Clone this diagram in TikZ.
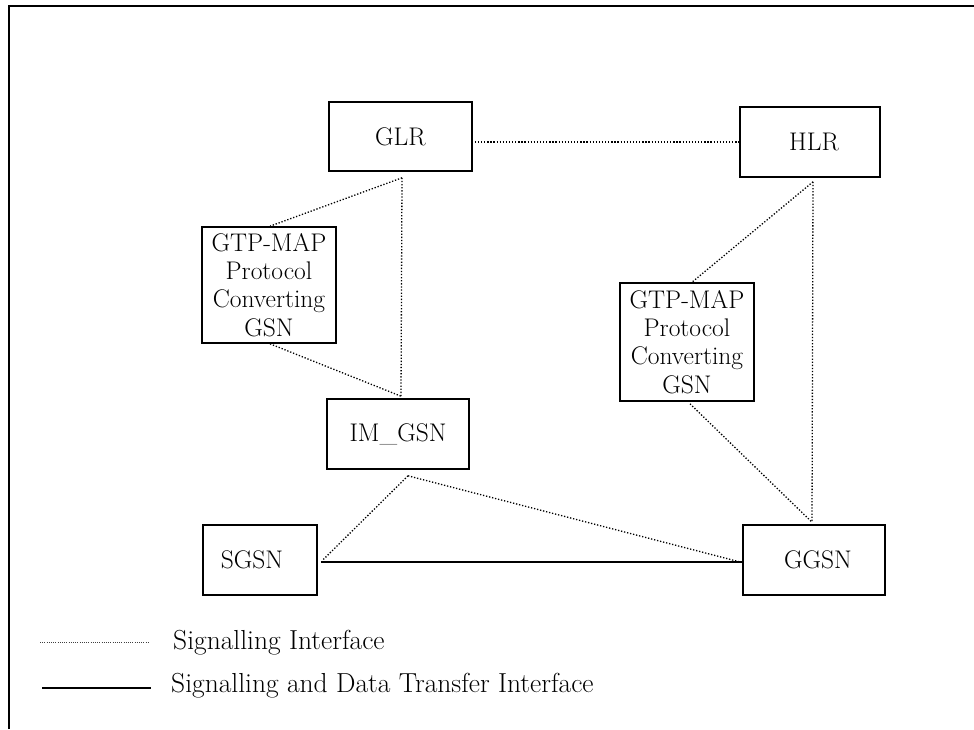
\documentclass[tikz,border=0pt]{standalone}
\usepackage{fontspec}
\begin{document}
\begin{tikzpicture}[x=1pt,y=-1pt,
  box/.style={draw,line width=1.6pt,rectangle,inner sep=0pt,font=\fontsize{25.5}{28.3}\selectfont,align=center},
  sig/.style={line width=1.3pt,dash pattern=on 1.3pt off 1.8pt},
  sigleg/.style={line width=0.9pt,dash pattern=on 0.9pt off 1.3pt,black!75},
  data/.style={line width=1.8pt},
  legtext/.style={font=\fontsize{27.5}{30}\selectfont,inner sep=0pt}]
\useasboundingbox (0,0) rectangle (974,729);
% frame
\draw[line width=2pt] (9,729) -- (9,6) -- (974,6);
% nodes
\node[box,minimum width=143pt,minimum height=69pt] (glr) at (400.5,136.5) {GLR};
\node[box,minimum width=140pt,minimum height=70pt] (hlr) at (810,142) {\hspace*{8pt}HLR};
\node[box,minimum width=134pt,minimum height=116pt] (gtpl) at (269,285) {GTP-MAP\\Protocol\\Converting\\GSN};
\node[box,minimum width=134pt,minimum height=118pt] (gtpr) at (687,342) {GTP-MAP\\Protocol\\Converting\\GSN};
\node[box,minimum width=142pt,minimum height=70pt] (im) at (398,434) {IM\_GSN};
\node[box,minimum width=114pt,minimum height=70pt] (sgsn) at (260,560) {SGSN\hspace*{16pt}};
\node[box,minimum width=142pt,minimum height=70pt] (ggsn) at (814,560) {\hspace*{8pt}GGSN};
% connector points
\coordinate (glrR) at ([xshift=2pt]glr.east |- hlr.west);
\coordinate (glrB) at ([xshift=1.5pt,yshift=-6pt]glr.south);
\coordinate (imT) at ([xshift=3pt,yshift=2pt]im.north);
\coordinate (imB) at ([xshift=10pt,yshift=-6pt]im.south);
\coordinate (hlrB) at ([xshift=3pt,yshift=-4pt]hlr.south);
\coordinate (ggsnT) at ([xshift=-2pt,yshift=2pt]ggsn.north);
\coordinate (gtplT) at ([xshift=1pt]gtpl.north);
\coordinate (gtplB) at ([xshift=1pt]gtpl.south);
\coordinate (gtprT) at ([xshift=5pt]gtpr.north);
\coordinate (gtprB) at ([xshift=3pt,yshift=-2pt]gtpr.south);
\coordinate (sgsnR) at ([xshift=5pt,yshift=0pt]sgsn.east);
\coordinate (ggsnL) at ([xshift=-2pt,yshift=-2pt]ggsn.west);
% connectors
\draw[sig] (glrR) -- (hlr.west);
\draw[sig] (glrB) -- (imT);
\draw[sig] (glrB) -- (gtplT);
\draw[sig] (gtplB) -- (imT);
\draw[sig] (hlrB) -- (ggsnT);
\draw[sig] (hlrB) -- (gtprT);
\draw[sig] (gtprB) -- (ggsnT);
\draw[sig] (imB) -- (sgsnR);
\draw[sig] (imB) -- (ggsnL);
\draw[data] ([xshift=3pt,yshift=-2pt]sgsn.east) -- ([yshift=-2pt]ggsn.west);
% legend
\coordinate (l1a) at (40,642);
\coordinate (l1b) at (148,642);
\coordinate (l2a) at (42,688);
\coordinate (l2b) at (151,688);
\draw[sigleg] (l1a) -- (l1b);
\draw[data] (l2a) -- (l2b);
\node[legtext,anchor=base west] (t1) at (173,649) {Signalling Interface};
\node[legtext,anchor=base west] (t2) at (171,692) {Signalling and Data Transfer Interface};
\end{tikzpicture}
\end{document}
